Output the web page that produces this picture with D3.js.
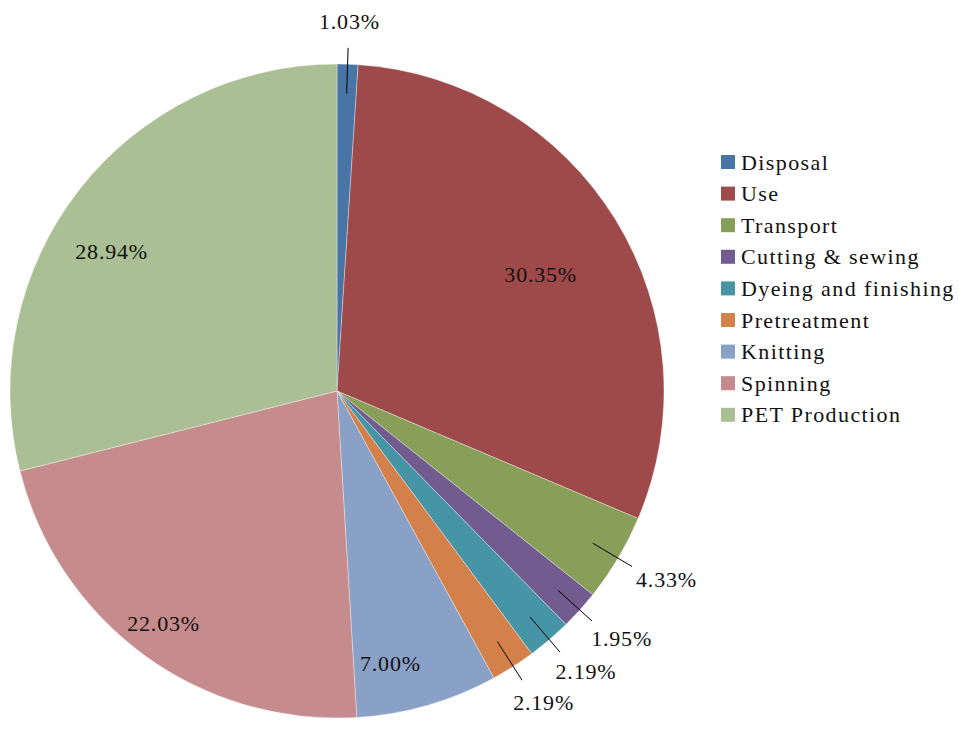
<!doctype html>
<html>
<head>
  <style>
    body { margin: 0; background: #fff; }
  </style>
  <script src="https://cdn.jsdelivr.net/npm/d3@7"></script>
</head>
<body>
  <script>
  // stages, in clockwise order from 12 o'clock
  var categories = ["Disposal", "Use", "Transport", "Cutting & sewing", "Dyeing and finishing",
                    "Pretreatment", "Knitting", "Spinning", "PET Production"];
  var values = [1.03, 30.35, 4.33, 1.95, 2.19, 2.19, 7.00, 22.03, 28.94];
  var colors = ["#4874a6", "#9e4a4b", "#879f58", "#715b8f", "#4595a7",
                "#d4804b", "#89a0c7", "#c68b8c", "#aabf94"];

  var W = 959, H = 729;
  var cx = 337, cy = 391, R = 327;
  var font = "Liberation Serif, DejaVu Serif, Times New Roman, serif";

  var svg = d3.select("body").append("svg")
    .attr("width", W)
    .attr("height", H)
    .attr("font-family", font);

  var pie = d3.pie().sort(null).value(function(d) { return d; });
  var arcs = pie(values);

  var arc = d3.arc().innerRadius(0).outerRadius(R);

  var g = svg.append("g").attr("transform", "translate(" + cx + "," + cy + ")");

  g.selectAll("path")
    .data(arcs)
    .enter()
    .append("path")
    .attr("d", arc)
    .attr("fill", function(d, i) { return colors[i]; })
    .attr("stroke", "rgba(255,255,255,0.5)")
    .attr("stroke-width", 0.7);

  // unit direction of the mid angle of a slice
  function dir(d) {
    var a = (d.startAngle + d.endAngle) / 2;
    return [Math.sin(a), -Math.cos(a)];
  }
  function at(d, r) {
    var u = dir(d);
    return [r * u[0], r * u[1]];
  }

  var small = arcs.filter(function(d) { return d.value < 5; });
  var big = arcs.filter(function(d) { return d.value >= 5; });

  // small slices: pin line + label outside
  g.selectAll("line.pin")
    .data(small)
    .enter()
    .append("line")
    .attr("class", "pin")
    .attr("x1", function(d) { return at(d, R * 0.91)[0]; })
    .attr("y1", function(d) { return at(d, R * 0.91)[1]; })
    .attr("x2", function(d) { return at(d, R * 1.05)[0]; })
    .attr("y2", function(d) { return at(d, R * 1.05)[1]; })
    .attr("stroke", "#000")
    .attr("stroke-width", 1);

  // label sits past the pin end, pushed further sideways than up/down (text is wide)
  g.selectAll("text.out")
    .data(small)
    .enter()
    .append("text")
    .attr("class", "out")
    .attr("x", function(d) { return at(d, R * 1.05)[0] + dir(d)[0] * 40; })
    .attr("y", function(d) { return at(d, R * 1.05)[1] + dir(d)[1] * 26; })
    .attr("text-anchor", "middle")
    .attr("dominant-baseline", "central")
    .style("font-family", font)
    .style("font-size", "22px")
    .style("letter-spacing", "0.8px")
    .attr("fill", "#111")
    .text(function(d) { return d.value.toFixed(2) + "%"; });

  // big slices: label inside, nudged down-left like the original node anchor
  g.selectAll("text.in")
    .data(big)
    .enter()
    .append("text")
    .attr("class", "in")
    .attr("x", function(d) { return at(d, R * 0.8)[0] - 19; })
    .attr("y", function(d) { return at(d, R * 0.8)[1] + 21; })
    .attr("text-anchor", "middle")
    .attr("dominant-baseline", "central")
    .style("font-family", font)
    .style("font-size", "22px")
    .style("letter-spacing", "0.8px")
    .attr("fill", "#111")
    .text(function(d) { return d.value.toFixed(2) + "%"; });

  // legend
  var legend = svg.append("g").attr("transform", "translate(721,155)");
  var rowH = 31.6;

  var rows = legend.selectAll("g")
    .data(categories)
    .enter()
    .append("g")
    .attr("transform", function(d, i) { return "translate(0," + (i * rowH) + ")"; });

  rows.append("rect")
    .attr("width", 14)
    .attr("height", 14)
    .attr("fill", function(d, i) { return colors[i]; });

  rows.append("text")
    .attr("x", 20)
    .attr("y", 7)
    .attr("dominant-baseline", "central")
    .style("font-family", font)
    .style("font-size", "22px")
    .style("letter-spacing", "1.4px")
    .attr("fill", "#111")
    .text(function(d) { return d; });
  </script>
</body>
</html>
